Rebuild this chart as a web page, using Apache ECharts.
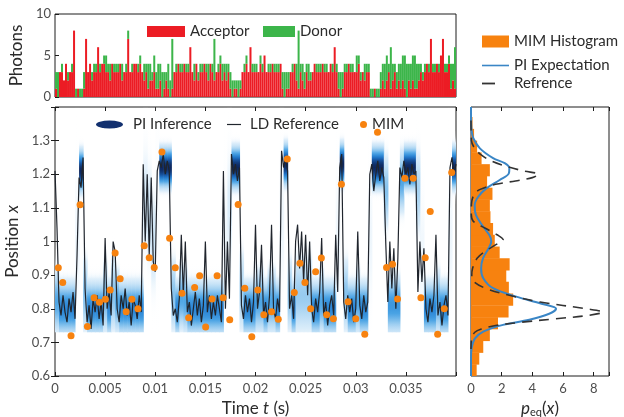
<!DOCTYPE html>
<html>
<head>
<meta charset="utf-8">
<script src="https://cdn.jsdelivr.net/npm/echarts@6/dist/echarts.min.js"></script>
<style>
html, body { margin: 0; padding: 0; background: #fff; }
#chart { width: 624px; height: 417px; }
</style>
</head>
<body>
<div id="chart"></div>
<script>
// ---------- photon counts, one entry per 0.2 ms bin ----------
const binWidth = 0.0002;
const acceptorCounts = [
  1,0,3,3,2,4,2,3,3,8, 0,1,0,0,1,7,3,4,2,3,
  3,6,3,4,4,3,3,2,4,3, 3,3,4,2,3,3,7,3,3,4,
  4,3,4,3,2,3,1,2,2,3, 1,1,2,0,1,2,1,0,1,3,
  3,4,3,3,4,3,3,6,3,2, 4,2,3,3,4,3,2,4,3,2,
  3,3,4,2,3,2,3,1,0,1, 1,0,1,3,3,4,3,6,3,3,
  3,3,4,3,5,3,3,3,4,3, 3,3,4,1,0,1,1,3,3,4,
  2,1,3,2,1,3,2,2,3,4, 3,3,3,4,3,3,3,4,3,6,
  3,1,0,1,3,3,4,3,3,3, 3,4,2,3,2,3,3,0,0,1,
  0,0,1,2,1,2,3,1,2,3, 1,2,1,2,1,0,2,1,2,1,
  1,2,3,2,3,4,3,7,3,3, 4,3,5,7,3,3,4,1,2,1
];
const donorCounts = [
  2,3,0,1,0,0,1,0,1,0, 1,0,1,1,2,0,0,0,1,1,
  1,0,1,0,1,2,1,2,0,1, 1,1,0,2,0,1,1,0,1,0,
  0,1,1,0,2,1,3,2,1,2, 2,3,2,3,2,1,3,2,6,0,
  1,0,1,1,0,1,1,0,0,2, 0,1,1,1,0,1,2,0,1,5,
  0,1,1,2,1,2,1,2,2,1, 1,2,1,0,1,1,0,0,1,1,
  1,0,1,1,0,0,1,1,0,1, 1,1,0,2,3,2,2,0,1,0,
  2,7,1,2,2,1,2,1,0,0, 1,1,1,0,1,1,0,0,1,0,
  1,2,3,2,1,1,0,1,1,0, 2,1,1,0,2,1,1,1,1,0,
  1,1,2,2,3,3,1,5,2,1, 2,2,3,3,4,4,2,3,3,4,
  3,2,1,1,1,0,1,0,1,1, 0,1,0,0,1,1,1,3,2,5
];

// ---------- Langevin-dynamics reference trajectory, sampled every 0.2 ms ----------
const ldStep = 0.0002;
const ldPosition = [
  1.21,1.04,0.82,0.78,0.84,0.79,0.76,0.83,0.79,0.85,0.77,0.96,1.19,1.16,1.25,0.86,0.76,0.81,0.74,0.83,
  0.79,0.84,0.77,0.82,0.75,1.01,0.80,0.85,0.78,1.00,0.97,0.80,0.76,0.84,0.80,0.86,0.78,0.82,0.75,0.83,
  0.81,0.77,0.84,0.79,1.23,1.00,1.20,0.96,1.19,0.94,0.91,1.21,1.24,1.22,1.26,1.20,1.24,1.21,0.86,0.78,
  0.80,0.76,0.83,1.02,0.84,1.00,0.79,0.82,0.75,0.80,0.85,0.78,0.83,0.76,0.81,1.00,0.79,0.84,0.77,0.82,
  0.78,0.84,0.80,0.76,1.21,0.80,1.00,0.83,1.26,1.20,1.23,1.18,1.22,0.81,0.77,0.84,0.79,0.83,0.76,0.82,
  1.05,0.80,0.85,0.99,0.78,0.82,0.76,0.84,1.05,0.80,0.77,0.83,0.79,1.27,1.22,1.25,1.21,0.80,0.84,0.77,
  1.00,1.05,0.92,1.03,0.88,1.02,0.84,1.00,0.80,0.76,0.83,0.79,0.85,1.01,0.78,0.82,0.75,0.81,0.84,0.78,
  1.02,0.85,1.22,1.26,0.82,0.77,0.84,0.79,0.83,0.76,0.80,1.03,0.81,0.77,0.84,0.79,0.82,1.20,1.23,1.15,
  1.20,1.24,1.18,1.22,1.19,0.99,0.82,1.00,0.86,0.98,0.80,0.95,1.22,1.19,1.24,1.20,1.22,1.17,1.23,1.20,
  1.21,0.85,1.00,0.88,0.98,0.80,0.76,0.83,0.79,0.84,1.02,0.78,0.82,0.75,0.81,0.84,0.78,1.22,1.25,1.20,
  1.23
];

// ---------- path-integral posterior: centre and spread per 0.4 ms column ----------
const piStep = 0.0004;
const piMean = [
  0.82,0.80,0.80,0.80,0.80,1.00,1.21,0.84,0.80,0.80,
  0.80,0.80,0.83,0.80,0.84,0.82,0.80,0.80,0.80,0.80,
  0.80,0.80,1.12,1.08,1.00,1.10,1.22,1.22,1.22,0.84,
  0.80,0.83,0.82,0.80,0.80,0.80,0.80,0.80,0.80,0.80,
  0.80,0.80,1.00,1.10,1.22,1.22,0.85,0.80,0.80,0.80,
  0.82,0.82,0.80,0.82,0.82,0.80,1.05,1.23,0.84,0.80,
  0.84,0.84,0.84,0.84,0.80,0.80,0.82,0.80,0.80,0.80,
  1.00,1.23,0.84,0.80,0.80,0.82,0.80,0.80,1.00,1.22,
  1.22,1.22,1.15,0.81,0.81,0.81,1.18,1.22,1.22,1.22,
  1.15,0.95,0.80,0.80,0.80,0.82,0.80,0.80,1.00,1.22
];
const piSpread = [
  0.050,0.042,0.042,0.042,0.042,0.150,0.031,0.060,0.042,0.042,
  0.042,0.042,0.055,0.042,0.060,0.050,0.042,0.042,0.042,0.042,
  0.042,0.042,0.110,0.100,0.100,0.200,0.030,0.030,0.030,0.060,
  0.042,0.050,0.050,0.042,0.042,0.042,0.042,0.042,0.042,0.042,
  0.042,0.042,0.150,0.120,0.031,0.031,0.070,0.042,0.042,0.042,
  0.050,0.050,0.042,0.050,0.050,0.042,0.150,0.031,0.060,0.042,
  0.065,0.065,0.065,0.065,0.042,0.042,0.050,0.042,0.042,0.042,
  0.150,0.031,0.060,0.042,0.042,0.050,0.042,0.042,0.150,0.031,
  0.031,0.031,0.060,0.046,0.046,0.046,0.050,0.031,0.031,0.031,
  0.070,0.150,0.042,0.042,0.042,0.050,0.042,0.042,0.150,0.031
];
const piFloor = 0.73;

// ---------- MIM point estimates ----------
const mimTimeMs = [
  0.33,0.77,1.6,2.5,3.23,3.9,4.43,5.03,5.5,6.0,6.5,7.1,7.67,8.27,8.9,9.4,9.9,10.67,11.43,12.0,
  12.67,13.33,13.93,14.43,15.03,15.67,16.17,16.77,17.43,18.27,18.93,19.63,20.23,20.83,21.6,22.27,
  23.17,23.87,24.43,24.93,25.5,26.0,26.57,27.1,27.77,28.57,29.23,30.0,30.9,32.17,33.07,33.67,
  34.17,34.9,35.73,36.5,36.93,37.43,38.17,38.83,39.57
];
const mimPosition = [
  0.922,0.878,0.72,1.109,0.747,0.833,0.819,0.828,0.856,0.966,0.889,0.791,0.828,0.8,0.987,0.952,0.923,1.266,1.01,0.922,
  0.846,0.773,0.863,0.898,0.746,0.829,0.898,0.833,0.767,1.11,0.861,0.717,0.856,0.782,0.791,0.769,
  1.245,0.848,0.935,0.878,0.8,0.91,0.951,0.782,0.77,1.17,0.821,0.77,0.724,1.325,0.923,0.932,
  0.829,1.188,1.188,0.833,0.952,1.089,0.724,0.8,1.205
];

// ---------- equilibrium densities ----------
const histEdges = [0.6,0.635,0.67,0.705,0.74,0.775,0.81,0.845,0.88,0.915,0.95,0.985,1.02,1.055,1.09,1.125,1.16,1.195,1.23,1.265,1.3,1.335,1.37,1.405];
const histDensity = [0.37,0.54,0.8,1.23,1.76,2.45,2.75,2.47,2.3,2.52,1.87,1.55,1.44,1.27,1.23,1.4,1.05,1.23,0.69,0.4,0.2,0.1,0.05];

const piExpPosition = [1.40,1.35,1.327,1.307,1.277,1.248,1.233,1.218,1.203,1.183,1.158,1.133,1.108,1.079,1.049,1.019,1.0,0.98,0.95,0.92,0.891,0.861,0.836,0.815,0.80,0.785,0.767,0.752,0.732,0.712,0.682,0.653,0.60];
const piExpDensity  = [0.0,0.01,0.05,0.15,0.58,1.44,2.2,2.5,2.47,1.87,1.0,0.47,0.24,0.32,0.72,1.2,1.32,1.15,0.78,0.66,0.8,1.44,2.95,4.6,5.55,5.1,3.8,2.09,0.8,0.26,0.04,0.0,0.0];

const refPosition = [1.36,1.30,1.28,1.26,1.24,1.225,1.21,1.20,1.19,1.18,1.17,1.155,1.14,1.11,1.08,1.06,1.04,1.02,1.005,0.99,0.97,0.95,0.92,0.90,0.88,0.86,0.84,0.82,0.80,0.79,0.78,0.77,0.76,0.75,0.74,0.73,0.71,0.68];
const refDensity  = [0.0,0.03,0.2,0.6,1.3,2.2,3.4,4.4,4.0,2.9,1.6,0.6,0.2,0.03,0.02,0.15,0.9,1.7,2.1,1.6,0.9,0.4,0.1,0.05,0.2,1.0,2.5,4.5,7.5,8.6,7.6,5.5,3.3,1.6,0.7,0.25,0.03,0.0];

// ---------- styling ----------
const FONT = 'Lato, "DejaVu Sans", sans-serif';
const TEXT = '#2b2b2b';
const TICKTEXT = '#4d4d4d';
const FRAME = '#1c1c1c';
const RED = '#ec1c24', GREEN = '#3cb54a', ORANGE = '#f7820f', BLUE = '#3a86c6';

// colour ramp for the posterior density (intensity 0..1)
const piRamp = [
  [0.00, [255,255,255,0]],
  [0.06, [222,238,250,1]],
  [0.20, [165,210,242,1]],
  [0.40, [72,162,228,1]],
  [0.60, [34,124,208,1]],
  [0.80, [22,78,152,1]],
  [1.00, [14,40,95,1]]
];
const piSpreadRef = 0.031;

function rampColor(x) {
  x = Math.max(0, Math.min(1, x));
  for (let i = 1; i < piRamp.length; i++) {
    if (x <= piRamp[i][0]) {
      const [a0, c0] = piRamp[i - 1], [a1, c1] = piRamp[i];
      const f = (x - a0) / (a1 - a0);
      const c = c0.map((v, k) => v + (c1[k] - v) * f);
      return 'rgba(' + Math.round(c[0]) + ',' + Math.round(c[1]) + ',' + Math.round(c[2]) + ',' + c[3].toFixed(3) + ')';
    }
  }
  return 'rgba(14,40,95,1)';
}

function renderPosterior(params, api) {
  const t0 = api.value(0), t1 = api.value(1), m = api.value(2), s = api.value(3);
  const hi = Math.min(1.4, m + 3.5 * s);
  const lo = Math.max(piFloor, m - 3.5 * s);
  const pTop = api.coord([t0, hi]);
  const pBot = api.coord([t1, lo]);
  const peak = Math.min(1, Math.pow(piSpreadRef / s, 2));
  const n = 30, stops = [];
  for (let j = 0; j <= n; j++) {
    const v = hi - (hi - lo) * j / n;
    const z = (v - m) / s;
    stops.push({ offset: j / n, color: rampColor(peak * Math.exp(-0.5 * z * z)) });
  }
  return {
    type: 'rect',
    shape: { x: pTop[0], y: pTop[1], width: pBot[0] - pTop[0] + 0.6, height: pBot[1] - pTop[1] },
    style: { fill: { type: 'linear', x: 0, y: 0, x2: 0, y2: 1, colorStops: stops } }
  };
}

function renderHistogram(params, api) {
  const lo = api.value(0), hi = api.value(1), d = api.value(2);
  const a = api.coord([0, hi]);
  const b = api.coord([d, lo]);
  return {
    type: 'rect',
    shape: { x: a[0], y: a[1], width: b[0] - a[0], height: b[1] - a[1] + 0.4 },
    style: { fill: ORANGE }
  };
}

const fmt = v => String(+(+v).toFixed(4));

// ---------- assembled series data ----------
const binLabels = acceptorCounts.map((_, i) => fmt(i * binWidth));
const ldData = ldPosition.map((v, i) => [i * ldStep, v]);
const piData = piMean.map((m, k) => [k * piStep, (k + 1) * piStep, m, piSpread[k]]);
const mimData = mimTimeMs.map((t, i) => [t / 1000, mimPosition[i]]);
const histData = histDensity.map((d, i) => [histEdges[i], histEdges[i + 1], d]);
const piExpData = piExpPosition.map((p, i) => [piExpDensity[i], p]);
const refData = refPosition.map((p, i) => [refDensity[i], p]);

const gridBase = { show: true, borderColor: FRAME, borderWidth: 1, backgroundColor: 'transparent', containLabel: false, outerBoundsMode: 'none' };

const tickInside = { show: true, inside: true, length: 4, lineStyle: { color: FRAME, width: 1 } };
const labelStyle = { fontFamily: FONT, fontSize: 13, color: TICKTEXT };
const nameStyle = { fontFamily: FONT, fontSize: 17, color: TEXT };
const legendText = { fontFamily: FONT, fontSize: 15, color: TEXT };

function oneLegend(name, icon, left, top, w, h) {
  return {
    data: [{ name: name, icon: icon }],
    left: left, top: top, itemWidth: w, itemHeight: h,
    padding: 0, itemGap: 0, selectedMode: false,
    textStyle: legendText
  };
}

const option = {
  animation: false,
  backgroundColor: '#ffffff',
  textStyle: { fontFamily: FONT },
  grid: [
    Object.assign({ left: 55, top: 14, width: 401, height: 83 }, gridBase),
    Object.assign({ left: 55, top: 107, width: 401, height: 269 }, gridBase),
    Object.assign({ left: 471, top: 107, width: 138, height: 269 }, gridBase)
  ],
  legend: [
    oneLegend('Acceptor', 'rect', 147, 24, 38, 11),
    oneLegend('Donor', 'rect', 263, 24, 32, 11),
    oneLegend('PI Inference', 'path://M0,4A13.5,4,0,1,1,27,4A13.5,4,0,1,1,0,4ZM32,0M32,8', 96, 117, 32, 8),
    oneLegend('LD Reference', 'path://M0,0M18,8M0,3.4L14,3.4L14,4.6L0,4.6Z', 227, 117, 18, 8),
    oneLegend('MIM', 'circle', 360, 117, 7, 7),
    oneLegend('MIM Histogram', 'rect', 482, 34, 27, 12),
    oneLegend('PI Expectation', 'path://M0,0M27,12M0,5.2L27,5.2L27,6.8L0,6.8Z', 482, 58, 27, 12),
    oneLegend('Refrence', 'path://M0,0M27,12M0,5.1L13,5.1L13,6.9L0,6.9Z', 482, 76, 27, 12)
  ],
  xAxis: [
    { // photon bins
      type: 'category', gridIndex: 0, data: binLabels, boundaryGap: true,
      axisLine: { show: false }, axisTick: { show: false }, axisLabel: { show: false }, splitLine: { show: false }
    },
    { // time, bottom of main panel
      type: 'value', gridIndex: 1, min: 0, max: 0.04, interval: 0.005, position: 'bottom',
      axisLine: { show: false }, axisTick: tickInside, splitLine: { show: false },
      axisLabel: Object.assign({ margin: 6, formatter: v => (v > 0.0399 ? '' : fmt(v)) }, labelStyle),
      name: '{n|Time }{i|t}{n| (s)}', nameLocation: 'middle', nameGap: 23,
      nameTextStyle: Object.assign({ rich: { n: nameStyle, i: Object.assign({ fontStyle: 'italic' }, nameStyle) } }, nameStyle)
    },
    { // time, top mirror
      type: 'value', gridIndex: 1, min: 0, max: 0.04, interval: 0.005, position: 'top',
      axisLine: { show: false }, axisTick: tickInside, axisLabel: { show: false }, splitLine: { show: false }
    },
    { // density, bottom of side panel
      type: 'value', gridIndex: 2, min: 0, max: 9, interval: 2, position: 'bottom',
      axisLine: { show: false }, axisTick: tickInside, splitLine: { show: false },
      axisLabel: Object.assign({ margin: 6, formatter: v => (v % 2 === 0 ? String(v) : '') }, labelStyle),
      name: '{i|p}{s|eq}{n|(}{i|x}{n|)}', nameLocation: 'middle', nameGap: 22,
      nameTextStyle: Object.assign({
        rich: {
          n: nameStyle,
          i: Object.assign({ fontStyle: 'italic' }, nameStyle),
          s: { fontFamily: FONT, fontSize: 11, color: TEXT, verticalAlign: 'bottom', padding: [8, 0, 0, 0] }
        }
      }, nameStyle)
    },
    { // density, top mirror
      type: 'value', gridIndex: 2, min: 0, max: 9, interval: 2, position: 'top',
      axisLine: { show: false }, axisTick: tickInside, axisLabel: { show: false }, splitLine: { show: false }
    }
  ],
  yAxis: [
    { // photons
      type: 'value', gridIndex: 0, min: 0, max: 10, interval: 5,
      axisLine: { show: false }, axisTick: tickInside, splitLine: { show: false },
      axisLabel: Object.assign({ margin: 4 }, labelStyle),
      name: 'Photons', nameLocation: 'middle', nameGap: 29, nameTextStyle: nameStyle
    },
    { // position, left
      type: 'value', gridIndex: 1, min: 0.6, max: 1.4, interval: 0.1, position: 'left',
      axisLine: { show: false }, axisTick: tickInside, splitLine: { show: false },
      axisLabel: Object.assign({ margin: 5, formatter: v => (v > 1.39 ? '' : fmt(v)) }, labelStyle),
      name: '{n|Position }{i|x}', nameLocation: 'middle', nameGap: 29,
      nameTextStyle: Object.assign({ rich: { n: nameStyle, i: Object.assign({ fontStyle: 'italic' }, nameStyle) } }, nameStyle)
    },
    { // position, right mirror
      type: 'value', gridIndex: 1, min: 0.6, max: 1.4, interval: 0.1, position: 'right',
      axisLine: { show: false }, axisTick: tickInside, axisLabel: { show: false }, splitLine: { show: false }
    },
    { // position, side panel
      type: 'value', gridIndex: 2, min: 0.6, max: 1.4, interval: 0.1,
      axisLine: { show: false }, axisTick: { show: false }, axisLabel: { show: false }, splitLine: { show: false }
    }
  ],
  series: [
    {
      name: 'Acceptor', type: 'bar', stack: 'photons', xAxisIndex: 0, yAxisIndex: 0,
      data: acceptorCounts, barCategoryGap: '0%', barGap: '0%',
      itemStyle: { color: RED }
    },
    {
      name: 'Donor', type: 'bar', stack: 'photons', xAxisIndex: 0, yAxisIndex: 0,
      data: donorCounts, barCategoryGap: '0%', barGap: '0%',
      itemStyle: { color: GREEN }
    },
    {
      name: 'PI Inference', type: 'custom', xAxisIndex: 1, yAxisIndex: 1,
      data: piData, encode: { x: [0, 1], y: 2 }, renderItem: renderPosterior,
      clip: true, z: 1, silent: true,
      itemStyle: { color: '#12306f' }
    },
    {
      name: 'LD Reference', type: 'line', xAxisIndex: 1, yAxisIndex: 1,
      data: ldData, showSymbol: false, symbol: 'none', clip: true, z: 3,
      lineStyle: { color: '#20252d', width: 1.2 }, itemStyle: { color: '#20252d' }
    },
    {
      name: 'MIM', type: 'scatter', xAxisIndex: 1, yAxisIndex: 1,
      data: mimData, symbolSize: 7, z: 5,
      itemStyle: { color: ORANGE, opacity: 1 }
    },
    {
      name: 'MIM Histogram', type: 'custom', xAxisIndex: 3, yAxisIndex: 3,
      data: histData, encode: { x: 2, y: [0, 1] }, renderItem: renderHistogram,
      clip: true, z: 1, itemStyle: { color: ORANGE }
    },
    {
      name: 'PI Expectation', type: 'line', xAxisIndex: 3, yAxisIndex: 3,
      data: piExpData, smooth: 0.35, showSymbol: false, symbol: 'none', clip: true, z: 3,
      lineStyle: { color: BLUE, width: 2 }, itemStyle: { color: BLUE }
    },
    {
      name: 'Refrence', type: 'line', xAxisIndex: 3, yAxisIndex: 3,
      data: refData, smooth: 0.35, showSymbol: false, symbol: 'none', clip: true, z: 4,
      lineStyle: { color: '#333333', width: 1.6, type: [10, 7] }, itemStyle: { color: '#333333' }
    }
  ]
};

const chart = echarts.init(document.getElementById('chart'), null, { renderer: 'canvas' });
chart.setOption(option);
</script>
</body>
</html>
